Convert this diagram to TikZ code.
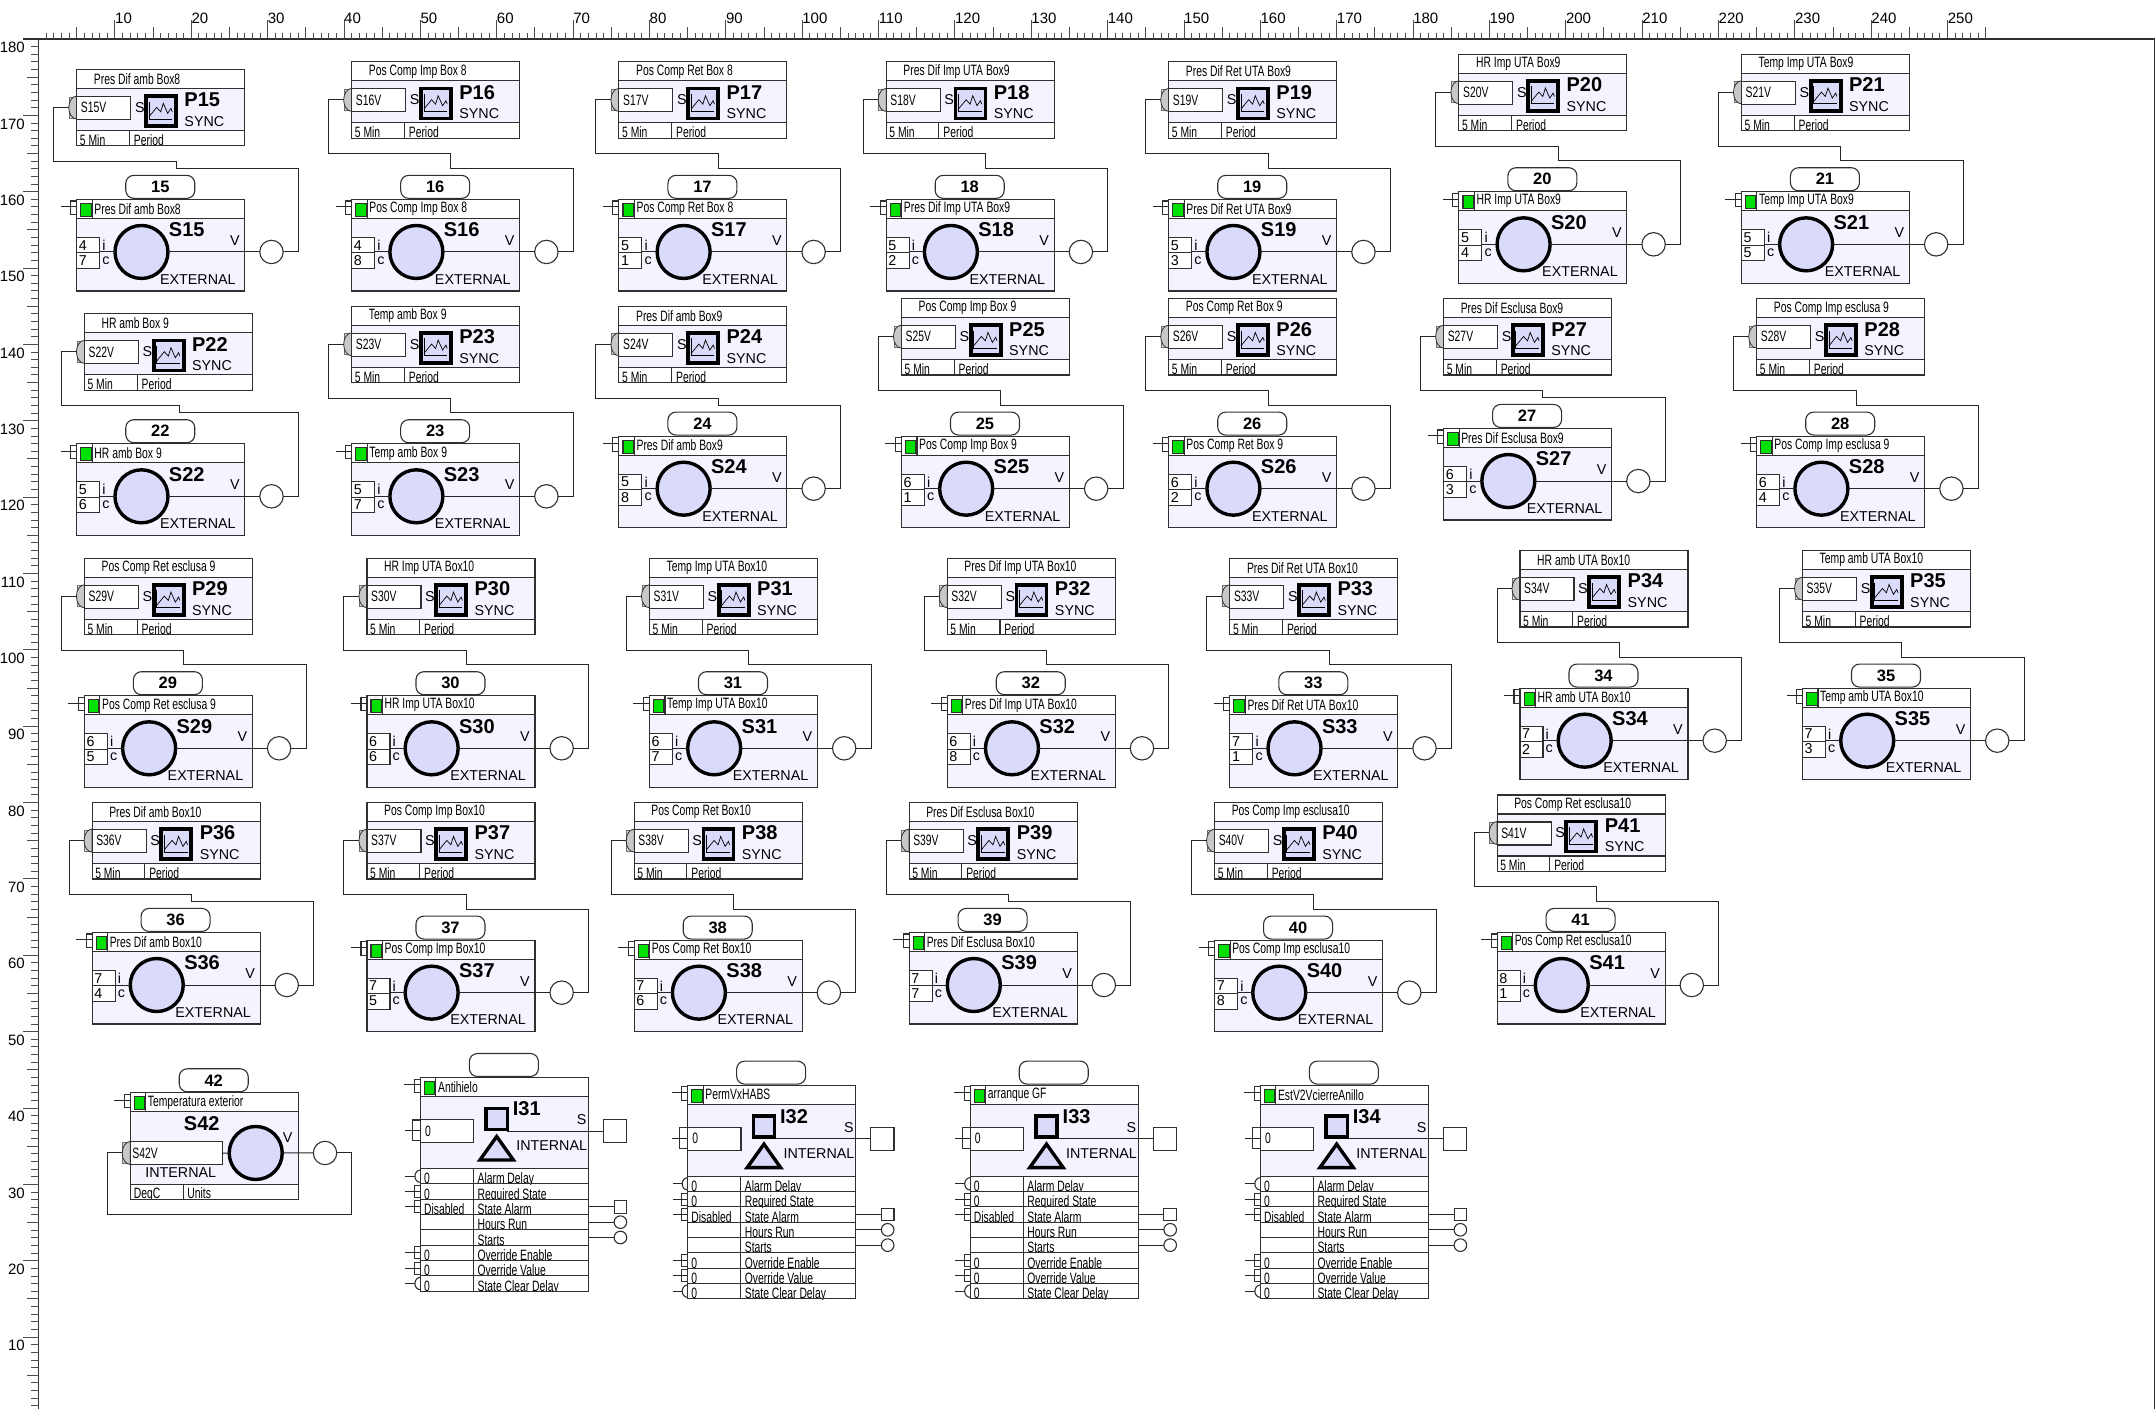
\documentclass[tikz,border=0pt]{standalone}
\usepackage{fontspec}
\setmainfont{Liberation Sans}
\newfontfamily\cond[FakeStretch=0.69]{Liberation Sans}
\definecolor{bodyc}{HTML}{F4F4FF}
\definecolor{iconc}{HTML}{DADAFA}
\definecolor{greenc}{HTML}{00E000}
\definecolor{linec}{HTML}{303030}
\definecolor{hemic}{HTML}{C8C8C8}
\tikzset{
  ln/.style={line width=1.1pt,draw=linec},
  wirestyle/.style={line width=1pt,draw=black!85},
  framebox/.style={ln,rectangle,anchor=north west,inner sep=0pt,outer sep=0pt},
  outc/.style={ln,circle,fill=white,inner sep=0pt,outer sep=0pt,minimum size=23.4pt},
  bigc/.style={circle,draw=black,line width=3.4pt,fill=iconc,inner sep=0pt,outer sep=0pt,minimum size=53pt},
  tc/.style={inner sep=0pt,anchor=west,font=\cond\fontsize{15}{15}\selectfont},
  tb/.style={inner sep=0pt,anchor=base west,font=\cond\fontsize{15}{15}\selectfont},
  tn/.style={inner sep=0pt,font=\fontsize{14.3}{14.3}\selectfont},
  tl/.style={inner sep=0pt,anchor=west,font=\bfseries\fontsize{20}{20}\selectfont},
  tnum/.style={inner sep=0pt,font=\bfseries\fontsize{16.5}{16.5}\selectfont},
  rul/.style={inner sep=0pt,font=\fontsize{15}{15}\selectfont},
  tick/.style={line width=1pt,draw=black!70},
}
\newcommand\Reframe[1]{\draw[ln] (#1.north west) rectangle (#1.south east);}
% green lamp, title, left connector, number capsule
\newcommand\HeadB[3]{% id, number text, title
  \fill[white] (0,0) rectangle (168,19);
  \draw[ln] (0,19) -- (168,19);
  \node[ln,rectangle,fill=white,inner sep=0pt,outer sep=0pt,rounded corners=8pt,minimum width=69pt,minimum height=23pt,anchor=north west] (#1cap) at (49,-24) {};
  \node[tnum] (#1capt) at (#1cap.center) {#2};
  \node[ln,rectangle,fill=greenc,inner sep=0pt,minimum width=10.5pt,minimum height=13pt,anchor=north west] (#1lamp) at (3.5,3.5) {};
  \draw[ln] (15.5,0) -- (15.5,19);
  \node[tc] (#1tt) at (17.5,9.5) {#3};
  \node[framebox,minimum width=6pt,minimum height=13.4pt,fill=white] (#1lc) at (-6,1.6) {};
  \coordinate (#1lw) at (-16,7.3);
  \draw[wirestyle] (#1lw) -- (0,7.3);
}
\newcommand\Hemi[2]{% id, y centre
  \fill[hemic!70,draw=linec!70,line width=.7pt] (-7.5,#2-10.5) rectangle (0,#2+10.5);
  \fill[hemic,draw=linec,line width=.8pt] (0,#2-11.5) arc[start angle=90,end angle=270,x radius=8pt,y radius=11.5pt] -- cycle;
  \coordinate (#1in) at (-8,#2);
}
% P block: number, u, k, title
\newcommand\Pb[4]{%
\begin{scope}[shift={(38.6+7.636*#2,39+7.636*#3)}]
  \node[rectangle,fill=bodyc,inner sep=0pt,outer sep=0pt,anchor=north west,minimum width=168pt,minimum height=76.4pt] (P#1) at (0,0) {};
  \fill[white] (0,0) rectangle (168,19);
  \fill[white] (0,61) rectangle (168,76.4);
  \draw[ln] (0,19) -- (168,19) (0,61) -- (168,61) (52.7,61) -- (52.7,76.4);
  \node[tc] (P#1tt) at (17,9.5) {#4};
  \Hemi{P#1}{38}
  \node[framebox,fill=white,minimum width=54pt,minimum height=23pt] (P#1f) at (0,27) {};
  \node[tc] (P#1ft) at (4,38) {S#1V};
  \node[tn] (P#1s) at (63,38) {S};
  \node[rectangle,draw=black,line width=3.8pt,fill=iconc,inner sep=0pt,outer sep=0pt,minimum width=30pt,minimum height=30pt,anchor=north west] (P#1ic) at (69.2,26.5) {};
  \draw[line width=.7pt] (72.2,32) -- (72.2,49.5) -- (95.5,49.5);
  \draw[line width=.7pt] (72.2,47.2) -- (79.9,37.8) -- (83.9,42.2) -- (86.5,33.8) -- (90.9,43.8) -- (94.2,38.8) -- (95.5,42.2);
  \node[tl] (P#1n) at (107.5,30.5) {P#1};
  \node[tn,anchor=west] (P#1y) at (107.5,52) {SYNC};
  \node[tb] (P#1a) at (3,76) {5 Min};
  \node[tb] (P#1b) at (57,76) {Period};
  \Reframe{P#1}
\end{scope}}
% S block: number, u, k, title, i, c
\newcommand\Sb[6]{%
\begin{scope}[shift={(38.6+7.636*#2,39+7.636*#3)}]
  \node[rectangle,fill=bodyc,inner sep=0pt,outer sep=0pt,anchor=north west,minimum width=168pt,minimum height=91.6pt] (S#1) at (0,0) {};
  \HeadB{S#1}{#1}{#4}
  \node[framebox,minimum width=23pt,minimum height=15.5pt,fill=white] (S#1i) at (0,38) {};
  \node[framebox,minimum width=23pt,minimum height=15.5pt,fill=white] (S#1c) at (0,53.5) {};
  \node[tn,anchor=west] (S#1it) at (2,46) {#5};
  \node[tn,anchor=west] (S#1ct) at (2,61) {#6};
  \node[tn,anchor=west] (S#1il) at (25.5,46) {i};
  \node[tn,anchor=west] (S#1cl) at (25.5,61) {c};
  \node[bigc] (S#1m) at (64.7,52.6) {};
  \node[outc] (S#1out) at (194.7,52.6) {};
  \draw[wirestyle] (23,52.6) -- (S#1m.west) (S#1m.east) -- (S#1out.west);
  \node[tl] (S#1n) at (92,30.6) {S#1};
  \node[tn] (S#1v) at (158,41.3) {V};
  \node[tn,anchor=east] (S#1e) at (159,80) {EXTERNAL};
  \Reframe{S#1}
\end{scope}}
% wire from S output back to P input: number, Pu, Pk, Su, Sk
\newcommand\Wr[5]{%
  \coordinate (W#1a) at (38.6+7.636*#2-23,39+7.636*#3+38);
  \coordinate (W#1b) at (38.6+7.636*#2-23,39+7.636*#3+92);
  \coordinate (W#1e) at (38.6+7.636*#4+221.6,39+7.636*#5-31);
  \coordinate (W#1f) at (38.6+7.636*#4+221.6,39+7.636*#5+52.6);
  \coordinate (W#1c) at ({(38.6+7.636*#2-23+38.6+7.636*#4+221.6)/2},39+7.636*#3+92);
  \coordinate (W#1d) at ({(38.6+7.636*#2-23+38.6+7.636*#4+221.6)/2},39+7.636*#5-31);
  \draw[wirestyle] (P#1in) -- (W#1a) -- (W#1b) -- (W#1c) -- (W#1d) -- (W#1e) -- (W#1f) -- (S#1out.east);
}
\newcommand\Pair[8]{%
  \Pb{#1}{#3}{#4}{#2}\Sb{#1}{#5}{#6}{#2}{#7}{#8}\Wr{#1}{#3}{#4}{#5}{#6}}
% I block rows: id, row, left kind (b/h/n), value, name
\newcommand\IRow[5]{%
  \begin{scope}
    \clip (-1,91+15.33*#2) rectangle (169,91+15.33*#2+15.6);
    \node[tb] (#1r#2v) at (3.5,91+15.33*#2+15.33) {#4};
    \node[tb] (#1r#2n) at (57,91+15.33*#2+15.33) {#5};
  \end{scope}
  \draw[ln] (0,91+15.33*#2+15.33) -- (168,91+15.33*#2+15.33);
  \coordinate (#1r#2w) at (-15,91+15.33*#2+7.66);
  \if#3b
    \node[framebox,minimum width=6pt,minimum height=12pt,anchor=east,fill=white] (#1r#2c) at (0,91+15.33*#2+7.66) {};
    \draw[wirestyle] (#1r#2w) -- (#1r#2c.east);
  \fi
  \if#3h
    \draw[ln] (0,91+15.33*#2+1.5) arc[start angle=90,end angle=270,x radius=5.5pt,y radius=6.2pt];
    \coordinate (#1r#2c) at (-5.5,91+15.33*#2+7.66);
    \draw[wirestyle] (#1r#2w) -- (#1r#2c);
  \fi
}
\newcommand\Ib[4]{% number, u, k, title
\begin{scope}[shift={(38.6+7.636*#2,39+7.636*#3)}]
  \node[rectangle,fill=white,inner sep=0pt,outer sep=0pt,anchor=north west,minimum width=168pt,minimum height=213.6pt] (I#1) at (0,0) {};
  \fill[bodyc] (0,19) rectangle (168,91);
  \HeadB{I#1}{}{#4}
  \draw[ln] (0,91) -- (168,91) (53,91) -- (53,213.6);
  \node[framebox,minimum width=8pt,minimum height=20.5pt,fill=white] (I#1fc) at (-8,42.5) {};
  \coordinate (I#1fw) at (-15.4,53.4);
  \draw[wirestyle] (I#1fw) -- (0,53.4);
  \node[framebox,minimum width=53.3pt,minimum height=23pt,fill=white] (I#1f) at (0,42) {};
  \node[tc] (I#1ft) at (4.5,53.5) {0};
  \coordinate (I#1ph) at (86.9,53.5);
  \node[framebox,minimum width=23.4pt,minimum height=23pt,fill=white] (I#1out) at (182.9,42) {};
  \draw[wirestyle] (I#1ph) -- (I#1out.west);
  \draw[line width=3.4pt,draw=black,fill=iconc] (65.6,31) rectangle (86.9,51.8);
  \draw[line width=3.4pt,draw=black,fill=iconc,line join=miter] (76.3,59) -- (93,82.5) -- (59.5,82.5) -- cycle;
  \node[tl] (I#1n) at (92.3,31.5) {I#1};
  \node[tn] (I#1s) at (161.3,42.5) {S};
  \node[tn] (I#1e) at (131.3,68.5) {INTERNAL};
  \IRow{I#1}{0}{h}{0}{Alarm Delay}
  \IRow{I#1}{1}{b}{0}{Required State}
  \IRow{I#1}{2}{b}{Disabled}{State Alarm}
  \IRow{I#1}{3}{n}{}{Hours Run}
  \IRow{I#1}{4}{n}{}{Starts}
  \IRow{I#1}{5}{b}{0}{Override Enable}
  \IRow{I#1}{6}{b}{0}{Override Value}
  \IRow{I#1}{7}{h}{0}{State Clear Delay}
  \coordinate (I#1a0) at (168,129.3);
  \coordinate (I#1a1) at (168,144.65);
  \coordinate (I#1a2) at (168,160);
  \node[ln,rectangle,fill=white,inner sep=0pt,outer sep=0pt,minimum size=12.6pt] (I#1o0) at (200,129.3) {};
  \node[ln,circle,fill=white,inner sep=0pt,outer sep=0pt,minimum size=12.6pt] (I#1o1) at (200,144.65) {};
  \node[ln,circle,fill=white,inner sep=0pt,outer sep=0pt,minimum size=12.6pt] (I#1o2) at (200,160) {};
  \draw[wirestyle] (I#1a0) -- (I#1o0.west) (I#1a1) -- (I#1o1.west) (I#1a2) -- (I#1o2.west);
  \Reframe{I#1}
\end{scope}}
\begin{document}
\begin{tikzpicture}[x=1pt,y=-1pt]
\useasboundingbox (0,0) rectangle (2156,1409);
% rulers
\draw[ln] (23,39) -- (2154.3,39) -- (2154.3,1409);
\draw[ln] (38.6,39) -- (38.6,1409);
\foreach \u in {1,...,255}{
  \pgfmathtruncatemacro\mten{mod(\u,10)}
  \pgfmathtruncatemacro\mfive{mod(\u,5)}
  \pgfmathsetmacro\len{\mten==0?19:(\mfive==0?12:6.5)}
  \draw[tick] (38.6+7.636*\u,39) -- ++(0,-\len);
}
\foreach \k in {1,...,179}{
  \pgfmathtruncatemacro\mten{mod(\k,10)}
  \pgfmathtruncatemacro\mfive{mod(\k,5)}
  \pgfmathsetmacro\len{\mten==0?16:(\mfive==0?12:8)}
  \draw[tick] (38.6,39+7.636*\k) -- ++(-\len,0);
}
\foreach \v in {10,20,...,250}{
  \node[rul,anchor=west] (xl\v) at (38.6+7.636*\v,18.5) {\v};
}
\foreach \v in {10,20,...,180}{
  \node[rul,anchor=east] (yl\v) at (25,39+7.636*180-7.636*\v+8.5) {\v};
}
% blocks
\Pair{15}{Pres Dif amb Box8}{5}{4}{5}{21}{4}{7}
\Pair{16}{Pos Comp Imp Box 8}{41}{3}{41}{21}{4}{8}
\Pair{17}{Pos Comp Ret Box 8}{76}{3}{76}{21}{5}{1}
\Pair{18}{Pres Dif Imp UTA Box9}{111}{3}{111}{21}{5}{2}
\Pair{19}{Pres Dif Ret UTA Box9}{148}{3}{148}{21}{5}{3}
\Pair{20}{HR Imp UTA Box9}{186}{2}{186}{20}{5}{4}
\Pair{21}{Temp Imp UTA Box9}{223}{2}{223}{20}{5}{5}
\Pair{22}{HR amb Box 9}{6}{36}{5}{53}{5}{6}
\Pair{23}{Temp amb Box 9}{41}{35}{41}{53}{5}{7}
\Pair{24}{Pres Dif amb Box9}{76}{35}{76}{52}{5}{8}
\Pair{25}{Pos Comp Imp Box 9}{113}{34}{113}{52}{6}{1}
\Pair{26}{Pos Comp Ret Box 9}{148}{34}{148}{52}{6}{2}
\Pair{27}{Pres Dif Esclusa Box9}{184}{34}{184}{51}{6}{3}
\Pair{28}{Pos Comp Imp esclusa 9}{225}{34}{225}{52}{6}{4}
\Pair{29}{Pos Comp Ret esclusa 9}{6}{68}{6}{86}{6}{5}
\Pair{30}{HR Imp UTA Box10}{43}{68}{43}{86}{6}{6}
\Pair{31}{Temp Imp UTA Box10}{80}{68}{80}{86}{6}{7}
\Pair{32}{Pres Dif Imp UTA Box10}{119}{68}{119}{86}{6}{8}
\Pair{33}{Pres Dif Ret UTA Box10}{156}{68}{156}{86}{7}{1}
\Pair{34}{HR amb UTA Box10}{194}{67}{194}{85}{7}{2}
\Pair{35}{Temp amb UTA Box10}{231}{67}{231}{85}{7}{3}
\Pair{36}{Pres Dif amb Box10}{7}{100}{7}{117}{7}{4}
\Pair{37}{Pos Comp Imp Box10}{43}{100}{43}{118}{7}{5}
\Pair{38}{Pos Comp Ret Box10}{78}{100}{78}{118}{7}{6}
\Pair{39}{Pres Dif Esclusa Box10}{114}{100}{114}{117}{7}{7}
\Pair{40}{Pos Comp Imp esclusa10}{154}{100}{154}{118}{7}{8}
\Pair{41}{Pos Comp Ret esclusa10}{191}{99}{191}{117}{8}{1}
% S42
\begin{scope}[shift={(38.6+7.636*12,39+7.636*138)}]
  \node[rectangle,fill=bodyc,inner sep=0pt,outer sep=0pt,anchor=north west,minimum width=168pt,minimum height=106.4pt] (S42) at (0,0) {};
  \HeadB{S42}{42}{Temperatura exterior}
  \fill[white] (0,91.5) rectangle (168,106.4);
  \draw[ln] (0,91.5) -- (168,91.5) (53,91.5) -- (53,106.4) (0,106.4) -- (168,106.4);
  \begin{scope}
    \clip (0,91.5) rectangle (168,106.4);
    \node[tb] (S42a) at (3.5,106.2) {DegC};
    \node[tb] (S42b) at (57,106.2) {Units};
  \end{scope}
  \Hemi{S42}{60.2}
  \node[framebox,fill=white,minimum width=92pt,minimum height=23pt] (S42f) at (0,49) {};
  \node[tc] (S42ft) at (2,60.5) {S42V};
  \node[bigc] (S42m) at (125.5,60.2) {};
  \node[outc] (S42out) at (194.8,60.2) {};
  \draw[wirestyle] (S42f.east) -- (S42m.west) (S42m.east) -- (S42out.west);
  \node[tl,anchor=center] (S42n) at (71.5,31) {S42};
  \node[tn] (S42e) at (50.5,80) {INTERNAL};
  \node[tn] (S42v) at (157.5,45) {V};
  \coordinate (S42wa) at (221,60.2);
  \coordinate (S42wb) at (221,121.5);
  \coordinate (S42wc) at (-23,121.5);
  \coordinate (S42wd) at (-23,60.2);
  \draw[wirestyle] (S42out.east) -- (S42wa) -- (S42wb) -- (S42wc) -- (S42wd) -- (S42in);
  \Reframe{S42}
\end{scope}
% I blocks
\Ib{31}{50}{136}{Antihielo}
\Ib{32}{85}{137}{PermVxHABS}
\Ib{33}{122}{137}{arranque GF}
\Ib{34}{160}{137}{EstV2VcierreAnillo}
\end{tikzpicture}
\end{document}
